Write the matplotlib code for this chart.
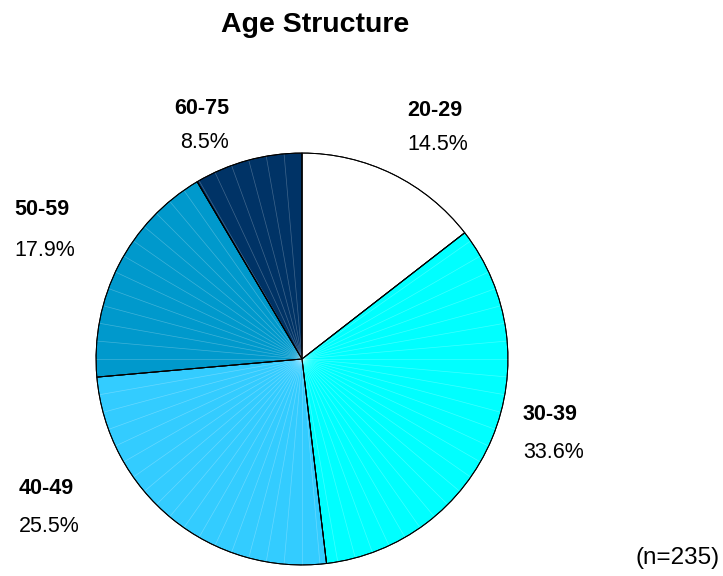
import matplotlib.pyplot as plt
import numpy as np

plt.rcParams['font.family'] = ['Liberation Sans', 'DejaVu Sans']

groups = ['20-29', '30-39', '40-49', '50-59', '60-75']
shares = [14.5, 33.6, 25.5, 17.9, 8.5]
colors = ['#FFFFFF', '#00FFFF', '#33CCFF', '#0099CC', '#003366']
n_total = 235

W, H = 723, 576
fig = plt.figure(figsize=(W / 100, H / 100), dpi=100)

def px(x, y):
    return x / W, 1 - y / H

# pie box in pixels: left 94, top 151, size 416
ax = fig.add_axes([94 / W, 1 - 567 / H, 416 / W, 416 / H])
wedges, _ = ax.pie(shares, colors=colors, startangle=90, counterclock=False,
                   radius=1, wedgeprops=dict(edgecolor='black', linewidth=0.7))

# faint facet lines like the old renderer
for a in np.arange(90, 90 - 360, -5.0):
    t = np.deg2rad(a)
    ax.plot([0, np.cos(t)], [0, np.sin(t)], color='white', lw=0.5,
            alpha=0.25, zorder=1.5)
for w in wedges:
    w.set_zorder(1)
# redraw outline on top
for w in wedges:
    ax.add_patch(plt.matplotlib.patches.Wedge(w.center, w.r, w.theta1, w.theta2,
                                              fill=False, edgecolor='black',
                                              linewidth=0.7, zorder=2))
ax.set_xlim(-1.01, 1.01)
ax.set_ylim(-1.01, 1.01)
ax.set_aspect('equal')
ax.axis('off')

fig.text(*px(315, 25), 'Age Structure', ha='center', va='center',
         fontsize=20.5, fontweight='bold')

# label positions (x anchor, y of group label, alignment)
label_pos = [(407, 110, 'left'), (523, 414, 'left'), (19, 488, 'left'),
             (14, 210, 'left'), (229, 109, 'right')]
pct_dy = [35, 39, 39, 40, 34]
for g, s, (x, y, al), dy in zip(groups, shares, label_pos, pct_dy):
    fig.text(*px(x, y), g, ha=al, va='center', fontsize=15.5, fontweight='bold')
    fig.text(*px(x, y + dy), f'{s:.1f}%', ha=al, va='center', fontsize=15.5)

fig.text(*px(720, 558), f'(n={n_total})', ha='right', va='center', fontsize=17.5)

fig.savefig('out.png', dpi=100)
